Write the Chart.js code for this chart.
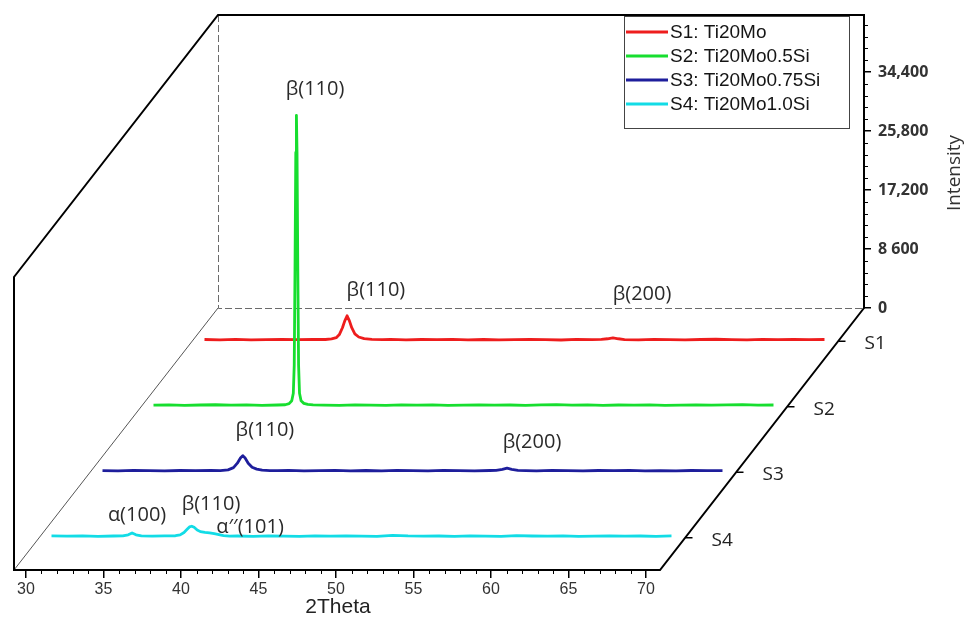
<!DOCTYPE html>
<html>
<head>
<meta charset="utf-8">
<script src="https://cdn.jsdelivr.net/npm/chart.js@4.4.1/dist/chart.umd.min.js"></script>
<style>
  html, body { margin: 0; padding: 0; background: #fff; }
  canvas { display: block; }
</style>
</head>
<body>
<canvas id="xrdChart" width="966" height="617"></canvas>
<script>
// XRD patterns, 2Theta in degrees and intensity in counts
const seriesLabels = ['S1: Ti20Mo', 'S2: Ti20Mo0.5Si', 'S3: Ti20Mo0.75Si', 'S4: Ti20Mo1.0Si'];
const seriesNames = ['S1', 'S2', 'S3', 'S4'];

const s1Theta = [30, 31, 32, 33, 34, 35, 36, 37,
  37.8, 38.2, 38.5, 38.7, 38.9, 39.05, 39.2, 39.35, 39.5, 39.7, 39.95, 40.3, 40.8,
  41.5, 42, 43, 44, 45, 46, 47, 48, 49, 50, 51, 52, 53, 54, 55,
  55.6, 56.0, 56.35, 56.7, 57.1,
  58, 59, 60, 61, 62, 63, 64, 65, 66, 67, 68, 69, 70];
const s1Counts = [180, 140, 200, 120, 170, 210, 150, 190,
  180, 260, 450, 900, 1900, 2900, 3650, 2900, 1900, 1000, 550, 300, 200,
  170, 190, 130, 180, 150, 200, 140, 180, 120, 170, 200, 150, 110, 190, 160,
  200, 290, 420, 290, 170,
  140, 190, 150, 120, 180, 220, 160, 130, 190, 150, 210, 170, 180];

const s2Theta = [30, 31, 32, 33, 34, 35, 36, 37, 38,
  38.5, 38.75, 38.92, 39.02, 39.08, 39.13, 39.18, 39.22, 39.26, 39.31, 39.36, 39.42, 39.52, 39.7, 39.95, 40.3,
  41, 42, 43, 44, 45, 46, 47, 48, 49, 50, 51, 52, 53, 54, 55,
  56, 57, 58, 59, 60, 61, 62, 63, 64, 65, 66, 67, 68, 69, 70];
const s2Counts = [150, 200, 130, 180, 220, 160, 190, 140, 180,
  220, 380, 800, 1900, 6000, 20000, 37000, 42400, 37000, 20000, 6000, 1900, 800, 420, 260, 200,
  170, 140, 200, 160, 130, 190, 150, 210, 120, 170, 200, 150, 180, 140, 190,
  230, 160, 200, 140, 180, 150, 210, 130, 170, 200, 150, 190, 240, 160, 180];

const s3Theta = [30, 31, 32, 33, 34, 35, 36, 37,
  37.6, 38.1, 38.45, 38.7, 38.9, 39.05, 39.2, 39.4, 39.65, 39.95, 40.3, 40.8,
  41.3, 42, 43, 44, 45, 46, 47, 48, 49, 50, 51, 52, 53, 54, 55,
  55.4, 55.8, 56.1, 56.4, 56.8,
  57.3, 58, 59, 60, 61, 62, 63, 64, 65, 66, 67, 68, 69, 70];
const s3Counts = [170, 130, 190, 150, 120, 180, 160, 200,
  170, 280, 600, 1250, 2000, 2350, 2000, 1250, 650, 380, 230, 160,
  150, 190, 130, 170, 210, 140, 180, 120, 200, 160, 140, 190, 150, 130, 180,
  190, 340, 520, 340, 190,
  170, 140, 190, 160, 130, 180, 150, 200, 140, 170, 130, 180, 160, 150];

const s4Theta = [30, 31, 32, 33, 34,
  34.6, 34.95, 35.2, 35.45, 35.8, 36.5, 37.3,
  38.0, 38.3, 38.55, 38.75, 38.9, 39.05, 39.2, 39.4, 39.6, 39.9, 40.2, 40.5, 40.8, 41.1, 41.5,
  42, 43, 44, 45, 46, 47, 48, 49, 50, 51, 52, 53, 54, 55, 56,
  57, 58, 59, 60, 61, 62, 63, 64, 65, 66, 67, 68, 69, 70];
const s4Counts = [190, 150, 200, 140, 180,
  200, 350, 620, 360, 190, 160, 210,
  220, 350, 700, 1150, 1500, 1600, 1450, 1050, 820, 720, 640, 520, 380, 240, 170,
  180, 140, 200, 160, 130, 190, 150, 210, 170, 140, 280, 190, 150, 180, 140,
  200, 160, 130, 230, 180, 150, 190, 140, 170, 200, 150, 180, 140, 190];

const thetaTicks = [30, 35, 40, 45, 50, 55, 60, 65, 70];
const intensityTicks = [0, 8600, 17200, 25800, 34400];
const intensityTickLabels = ['0', '8 600', '17,200', '25,800', '34,400'];

// peak labels: which series, and where (2Theta, counts) the text sits
const peakLabels = ['β(110)', 'β(110)', 'β(200)', 'β(110)', 'β(200)', 'α(100)', 'β(110)', 'α′′(101)'];
const peakSeries = [1, 0, 0, 2, 2, 3, 3, 3];
const peakTheta = [40.42, 41.06, 58.23, 40.48, 57.71, 35.52, 40.29, 42.81];
const peakCounts = [46200, 7400, 6700, 6100, 4300, 3200, 4800, 1500];

const seriesColors = ['#ee1d1d', '#17de2f', '#1e1e9c', '#12dce6'];

// layout of the pseudo 3D box
const W = 966, H = 617;
const PAD_LEFT = 14, PAD_TOP = 15;
const X_AXIS_H = 47, Y_AXIS_W = 102;
const DEPTH_DX = 51, DEPTH_DY = 65.5, DEPTH_STEPS = 4;
const seriesDepth = [3.5, 2.5, 1.5, 0.5];
const PX_PER_DEG = 15.5;
const PX_PER_COUNT = 236 / 34400;

const plotW = W - PAD_LEFT - Y_AXIS_W;
const plotH = H - PAD_TOP - X_AXIS_H;
const thetaMin = thetaTicks[0] - 12 / PX_PER_DEG;
const thetaMax = thetaMin + plotW / PX_PER_DEG;
const countsMin = -(DEPTH_STEPS * DEPTH_DY) / PX_PER_COUNT;
const countsMax = (plotH - DEPTH_STEPS * DEPTH_DY) / PX_PER_COUNT;

const thetaSets = [s1Theta, s2Theta, s3Theta, s4Theta];
const countSets = [s1Counts, s2Counts, s3Counts, s4Counts];

const line = (ctx, x1, y1, x2, y2) => {
  ctx.beginPath();
  ctx.moveTo(x1, y1);
  ctx.lineTo(x2, y2);
  ctx.stroke();
};

const waterfallPlugin = {
  id: 'waterfall3d',
  beforeDatasetsDraw(chart) {
    const { ctx, chartArea: a, scales } = chart;
    const bx = DEPTH_STEPS * DEPTH_DX, by = DEPTH_STEPS * DEPTH_DY;
    const y0 = a.bottom - by;
    const frontRight = a.right - bx;
    ctx.save();

    // back wall (dashed)
    ctx.strokeStyle = '#6b6b6b';
    ctx.lineWidth = 1;
    ctx.setLineDash([7, 3]);
    ctx.beginPath();
    ctx.moveTo(a.left + bx + 0.5, a.top);
    ctx.lineTo(a.left + bx + 0.5, y0 + 0.5);
    ctx.lineTo(a.right, y0 + 0.5);
    ctx.stroke();

    // left floor edge
    ctx.setLineDash([]);
    ctx.strokeStyle = '#555';
    line(ctx, a.left, a.bottom, a.left + bx, y0);

    // outline
    ctx.strokeStyle = '#000';
    ctx.lineWidth = 2;
    ctx.beginPath();
    ctx.moveTo(a.left, a.bottom);
    ctx.lineTo(a.left, a.top + by);
    ctx.lineTo(a.left + bx, a.top);
    ctx.lineTo(a.right, a.top);
    ctx.lineTo(a.right, y0);
    ctx.lineTo(frontRight, a.bottom);
    ctx.closePath();
    ctx.stroke();

    // minor ticks
    ctx.lineWidth = 1;
    const xs = scales.x, ys = scales.y;
    for (let t = thetaTicks[0]; t <= thetaTicks[thetaTicks.length - 1]; t++) {
      if (t % 5 === 0) continue;
      const px = Math.round(xs.getPixelForValue(t)) + 0.5;
      line(ctx, px, a.bottom, px, a.bottom + 4);
    }
    const minorStep = intensityTicks[1] / 5;
    for (let k = 1; ys.getPixelForValue(k * minorStep) > a.top + 2; k++) {
      if (k % 5 === 0) continue;
      const py = Math.round(ys.getPixelForValue(k * minorStep)) + 0.5;
      line(ctx, a.right, py, a.right + 4, py);
    }

    // sample (depth) axis along the right floor edge
    ctx.lineWidth = 1.5;
    ctx.fillStyle = '#222';
    ctx.font = '19px "Open Sans"';
    ctx.textAlign = 'left';
    ctx.textBaseline = 'middle';
    seriesNames.forEach((name, i) => {
      const ex = frontRight + seriesDepth[i] * DEPTH_DX;
      const ey = a.bottom - seriesDepth[i] * DEPTH_DY;
      line(ctx, ex, ey + 0.5, ex + 7, ey + 0.5);
      ctx.fillText(name, ex + 26, ey + 3);
    });

    // axis titles
    ctx.font = '21px "Liberation Sans"';
    ctx.textAlign = 'center';
    ctx.fillStyle = '#222';
    ctx.fillText('2Theta', 338, 607);
    ctx.save();
    ctx.translate(955, 173);
    ctx.rotate(-Math.PI / 2);
    ctx.font = '19px "Open Sans"';
    ctx.fillStyle = '#333';
    ctx.fillText('Intensity', 0, 0);
    ctx.restore();

    ctx.restore();
  },
  beforeDatasetDraw(chart, args) {
    const d = seriesDepth[args.index];
    chart.ctx.save();
    chart.ctx.translate(d * DEPTH_DX, (DEPTH_STEPS - d) * DEPTH_DY);
  },
  afterDatasetDraw(chart) {
    chart.ctx.restore();
  },
  afterDatasetsDraw(chart) {
    const { ctx, scales } = chart;
    ctx.save();

    // peak labels
    ctx.font = '20px "Open Sans"';
    ctx.fillStyle = '#2a2a2a';
    ctx.textAlign = 'center';
    ctx.textBaseline = 'middle';
    peakLabels.forEach((txt, i) => {
      const d = seriesDepth[peakSeries[i]];
      const px = scales.x.getPixelForValue(peakTheta[i]) + d * DEPTH_DX;
      const py = scales.y.getPixelForValue(peakCounts[i]) + (DEPTH_STEPS - d) * DEPTH_DY;
      ctx.fillText(txt, px, py);
    });

    // legend
    const lx = 624, ly = 16, lw = 225, lh = 112;
    ctx.fillStyle = '#fff';
    ctx.fillRect(lx, ly, lw, lh);
    ctx.strokeStyle = '#444';
    ctx.lineWidth = 1;
    ctx.strokeRect(lx + 0.5, ly + 0.5, lw, lh);
    ctx.font = '19px "Liberation Sans"';
    ctx.textAlign = 'left';
    chart.data.datasets.forEach((ds, i) => {
      const y = 32 + i * 24;
      ctx.strokeStyle = ds.borderColor;
      ctx.lineWidth = 3;
      line(ctx, lx + 2, y, lx + 44, y);
      ctx.fillStyle = '#151515';
      ctx.fillText(ds.label, lx + 46, y + 1);
    });

    ctx.restore();
  }
};

new Chart(document.getElementById('xrdChart'), {
  type: 'line',
  data: {
    datasets: seriesLabels.map((label, i) => ({
      label: label,
      data: thetaSets[i].map((t, k) => ({ x: t, y: countSets[i][k] })),
      borderColor: seriesColors[i],
      backgroundColor: seriesColors[i],
      borderWidth: 2.8,
      borderJoinStyle: 'round',
      pointRadius: 0,
      tension: 0,
      clip: false,
      order: seriesLabels.length - i,
    })),
  },
  options: {
    responsive: false,
    animation: false,
    layout: { padding: { left: PAD_LEFT, top: PAD_TOP, right: 0, bottom: 0 } },
    plugins: {
      legend: { display: false },
      tooltip: { enabled: false },
    },
    scales: {
      x: {
        type: 'linear',
        position: 'bottom',
        min: thetaMin,
        max: thetaMax,
        afterBuildTicks: (scale) => { scale.ticks = thetaTicks.map(v => ({ value: v })); },
        afterFit: (scale) => { scale.height = X_AXIS_H; scale.paddingLeft = 0; scale.paddingRight = 0; },
        border: { display: false },
        grid: { drawOnChartArea: false, drawTicks: true, tickLength: 8, color: '#000', lineWidth: 1.5 },
        ticks: {
          autoSkip: false,
          maxRotation: 0,
          padding: 2,
          color: '#333',
          font: { family: 'Liberation Sans', size: 16 },
          callback: (v) => String(v),
        },
      },
      y: {
        type: 'linear',
        position: 'right',
        min: countsMin,
        max: countsMax,
        afterBuildTicks: (scale) => { scale.ticks = intensityTicks.map(v => ({ value: v })); },
        afterFit: (scale) => { scale.width = Y_AXIS_W; scale.paddingTop = 0; scale.paddingBottom = 0; },
        border: { display: false },
        grid: { drawOnChartArea: false, drawTicks: true, tickLength: 7, color: '#000', lineWidth: 1.5 },
        ticks: {
          autoSkip: false,
          padding: 7,
          color: '#333',
          font: { family: 'Open Sans', size: 16, weight: 'bold' },
          callback: (v, i) => intensityTickLabels[i],
        },
      },
    },
  },
  plugins: [waterfallPlugin],
});
</script>
</body>
</html>
